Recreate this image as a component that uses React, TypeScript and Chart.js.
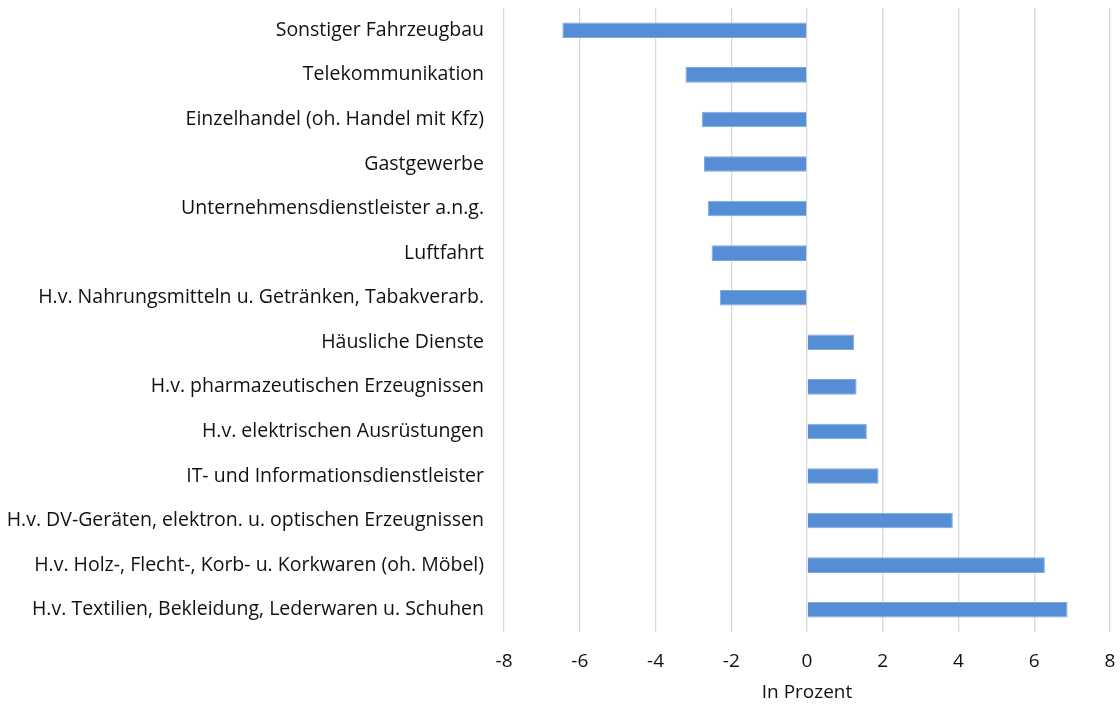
import React, { useEffect, useRef } from "react";
import { Chart, registerables } from "chart.js";

Chart.register(...registerables);

const categories = [
  "Sonstiger Fahrzeugbau",
  "Telekommunikation",
  "Einzelhandel (oh. Handel mit Kfz)",
  "Gastgewerbe",
  "Unternehmensdienstleister a.n.g.",
  "Luftfahrt",
  "H.v. Nahrungsmitteln u. Getränken, Tabakverarb.",
  "Häusliche Dienste",
  "H.v. pharmazeutischen Erzeugnissen",
  "H.v. elektrischen Ausrüstungen",
  "IT- und Informationsdienstleister",
  "H.v. DV-Geräten, elektron. u. optischen Erzeugnissen",
  "H.v. Holz-, Flecht-, Korb- u. Korkwaren (oh. Möbel)",
  "H.v. Textilien, Bekleidung, Lederwaren u. Schuhen",
];

const values = [
  -6.46, -3.21, -2.78, -2.72, -2.62, -2.52, -2.3, 1.24, 1.31, 1.58, 1.89, 3.85,
  6.28, 6.88,
];

const xMin = -8;
const xMax = 8;
const xStep = 2;
const xTitle = "In Prozent";

export default function App() {
  const ref = useRef<HTMLCanvasElement | null>(null);
  useEffect(() => {
    document.body.style.margin = "0";
    const font = "'Open Sans', 'Noto Sans', sans-serif";
    const chart = new Chart(ref.current!, {
      type: "bar",
      data: {
        labels: categories,
        datasets: [
          {
            data: values,
            backgroundColor: "#558ed5",
            borderColor: "#7ea9e0",
            borderWidth: 1,
            barPercentage: 0.7,
            categoryPercentage: 0.5,
          },
        ],
      },
      options: {
        indexAxis: "y",
        animation: false,
        responsive: false,
        maintainAspectRatio: false,
        layout: { padding: { top: 8, right: 10, left: 0, bottom: 0 } },
        plugins: { legend: { display: false }, tooltip: { enabled: false } },
        scales: {
          x: {
            min: xMin,
            max: xMax,
            ticks: {
              stepSize: xStep,
              color: "#111",
              font: { family: font, size: 19 },
              padding: 18,
            },
            grid: { color: "#d9d9d9", lineWidth: 1.3, drawTicks: false },
            border: { display: false },
            title: {
              display: true,
              text: xTitle,
              color: "#111",
              font: { family: font, size: 19 },
              padding: { top: 2, bottom: 0 },
            },
            afterFit: (s: any) => {
              s.height = 72;
              s.paddingLeft = 0;
              s.paddingRight = 0;
            },
          },
          y: {
            ticks: {
              color: "#111",
              font: { family: font, size: 19.5 },
              padding: 20,
              autoSkip: false,
            },
            grid: { display: false, drawTicks: false },
            border: { display: false },
            afterFit: (s: any) => {
              s.width = 504;
              s.paddingTop = 0;
              s.paddingBottom = 0;
            },
          },
        },
      },
    });
    return () => chart.destroy();
  }, []);
  return <canvas ref={ref} width={1120} height={704} style={{ display: "block" }} />;
}
